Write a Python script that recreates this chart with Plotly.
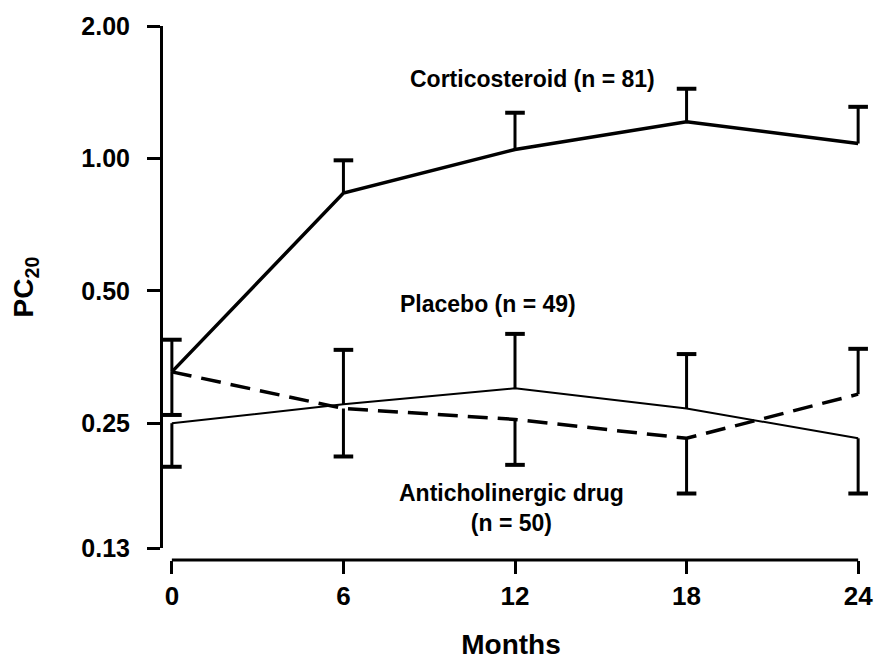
import math
import plotly.graph_objects as go

# ---------------- data ----------------
months = [0, 6, 12, 18, 24]
x_tick_labels = ["0", "6", "12", "18", "24"]
y_tick_vals = [0.13, 0.25, 0.5, 1.0, 2.0]
y_tick_labels = ["0.13", "0.25", "0.50", "1.00", "2.00"]

cortico = [0.327, 0.834, 1.048, 1.212, 1.081]
cortico_upper = [0.387, 0.99, 1.27, 1.44, 1.31]
cortico_lower = [None, None, None, None, None]

placebo = [0.25, 0.276, 0.300, 0.270, 0.231]
placebo_upper = [None, 0.367, 0.399, 0.359, None]
placebo_lower = [0.199, None, None, None, 0.173]

anticho = [0.327, 0.270, 0.255, 0.231, 0.291]
anticho_upper = [None, None, None, None, 0.369]
anticho_lower = [0.261, 0.21, 0.201, 0.173, None]

FONT = "Liberation Sans"
BLACK = "black"

fig = go.Figure()


def add_series(vals, upper, lower, width, dash):
    fig.add_trace(go.Scatter(x=months, y=vals, mode="lines",
                             line=dict(color=BLACK, width=width, dash=dash),
                             hoverinfo="skip"))
    sx, sy, cx, cy = [], [], [], []
    for m, v, hi, lo in zip(months, vals, upper, lower):
        for end in (hi, lo):
            if end is not None:
                sx += [m, m, None]
                sy += [v, end, None]
                cx.append(m)
                cy.append(end)
    fig.add_trace(go.Scatter(x=sx, y=sy, mode="lines",
                             line=dict(color=BLACK, width=3), hoverinfo="skip"))
    fig.add_trace(go.Scatter(x=cx, y=cy, mode="markers",
                             marker=dict(symbol="line-ew", size=14,
                                         line=dict(color=BLACK, width=4)),
                             hoverinfo="skip", cliponaxis=False))


add_series(placebo, placebo_upper, placebo_lower, 2, "solid")
add_series(anticho, anticho_upper, anticho_lower, 3.5, "20px,10px")
add_series(cortico, cortico_upper, cortico_lower, 3.5, "solid")

# x-axis baseline spanning the month range
fig.add_shape(type="line", xref="x", yref="paper",
              x0=months[0], x1=months[-1], y0=0, y1=0,
              line=dict(color=BLACK, width=3))

ann_font = dict(family=FONT, size=23, color=BLACK, weight="bold")
fig.add_annotation(x=12.6, y=math.log10(1.515), xref="x", yref="y",
                   text="Corticosteroid (n = 81)", showarrow=False, font=ann_font)
fig.add_annotation(x=11.05, y=math.log10(0.466), xref="x", yref="y",
                   text="Placebo (n = 49)", showarrow=False, font=ann_font)
fig.add_annotation(x=11.88, y=math.log10(0.160), xref="x", yref="y",
                   text="Anticholinergic drug<br>(n = 50)", showarrow=False,
                   font=ann_font)

fig.update_layout(
    width=885, height=672,
    margin=dict(l=161, r=13, t=21, b=112),
    paper_bgcolor="white", plot_bgcolor="white",
    showlegend=False,
    font=dict(family=FONT, color=BLACK),
    xaxis=dict(range=[-0.38, 24.1], tickvals=months, ticktext=x_tick_labels,
               ticks="outside", ticklen=13, tickwidth=3, tickcolor=BLACK,
               showline=False, showgrid=False, zeroline=False,
               anchor="free", position=0,
               tickfont=dict(family=FONT, size=26, color=BLACK, weight="bold"),
               title=dict(text="Months", standoff=24,
                          font=dict(family=FONT, size=28, color=BLACK, weight="bold"))),
    yaxis=dict(type="log", range=[math.log10(0.13), math.log10(2.0)],
               domain=[0.0223, 1],
               tickvals=y_tick_vals, ticktext=y_tick_labels,
               ticks="outside", ticklen=13, tickwidth=3, tickcolor=BLACK,
               ticklabelstandoff=12,
               showline=True, linewidth=3, linecolor=BLACK,
               showgrid=False, zeroline=False,
               anchor="free", position=0,
               tickfont=dict(family=FONT, size=25, color=BLACK, weight="bold"),
               title=dict(text="PC<sub>20</sub>", standoff=38,
                          font=dict(family=FONT, size=28, color=BLACK, weight="bold"))),
)

fig.write_html("out.html")
